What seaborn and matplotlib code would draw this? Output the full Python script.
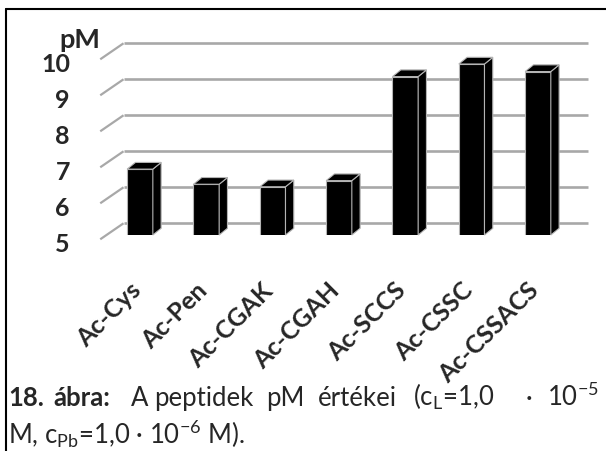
import numpy as np
import pandas as pd
import matplotlib
matplotlib.use("Agg")
import matplotlib.pyplot as plt
import seaborn as sns
from matplotlib.lines import Line2D
from matplotlib.patches import Polygon
from matplotlib.transforms import ScaledTranslation

# ---- data ----
peptides = ["Ac-Cys", "Ac-Pen", "Ac-CGAK", "Ac-CGAH", "Ac-SCCS", "Ac-CSSC", "Ac-CSSACS"]
pM_values = [6.83, 6.41, 6.34, 6.51, 9.40, 9.75, 9.54]
y_ticks = [5, 6, 7, 8, 9, 10]
y_label = "pM"

sns.set_style("white")
plt.rcParams['font.family'] = ['Lato', 'DejaVu Sans']
plt.rcParams['mathtext.fontset'] = 'custom'
plt.rcParams['mathtext.rm'] = 'Lato'
plt.rcParams['mathtext.default'] = 'regular'

W, H = 606, 451
DPI = 100
fig = plt.figure(figsize=(W / DPI, H / DPI), dpi=DPI)
fig.patch.set_facecolor("white")

# axes placement (pixels)
slot = 66.33
first_center = 140.0
base_px = 235.0
unit_px = 36.0
ymin, ymax = 5, 11
left_px = first_center - 0.5 * slot
ax = fig.add_axes([left_px / W, (H - base_px) / H, 7 * slot / W, (ymax - ymin) * unit_px / H])
ax.set_facecolor("none")

df = pd.DataFrame({"peptide": peptides, "pM": pM_values})
sns.barplot(data=df, x="peptide", y="pM", color="black", saturation=1, width=0.387,
            edgecolor="#b4b4b4", linewidth=0.8, ax=ax, zorder=3)
ax.set_xlim(-0.5, 6.5)
ax.set_ylim(ymin, ymax)

px_x = 1.0 / slot      # data units per pixel (x)
px_y = 1.0 / unit_px   # data units per pixel (y)

# ---- pseudo 3D faces of bars ----
ddx, ddy = 8.3 * px_x, 6.7 * px_y
for p in ax.patches:
    x0, w, top = p.get_x(), p.get_width(), p.get_y() + p.get_height()
    side = Polygon([(x0 + w, ymin), (x0 + w, top), (x0 + w + ddx, top + ddy), (x0 + w + ddx, ymin + ddy)],
                   closed=True, facecolor="black", edgecolor="#b4b4b4", lw=0.8, zorder=3, clip_on=False)
    topf = Polygon([(x0, top), (x0 + w, top), (x0 + w + ddx, top + ddy), (x0 + ddx, top + ddy)],
                   closed=True, facecolor="black", edgecolor="#b4b4b4", lw=0.8, zorder=3, clip_on=False)
    ax.add_patch(side)
    ax.add_patch(topf)

# ---- back wall gridlines and floor diagonals ----
grid_col = "#a8a8a8"
front_x = -0.5 - 6.6 * px_x
front_dy = -4.3 * px_y
back_x0 = -0.5 + 16.7 * px_x
back_x1 = 6.5 + 16.8 * px_x
back_dy = 11.7 * px_y
for v in y_ticks:
    ax.plot([back_x0, back_x1], [v + back_dy, v + back_dy], color=grid_col, lw=1.9,
            zorder=1, clip_on=False, solid_capstyle="butt")
    ax.plot([front_x, back_x0], [v + front_dy, v + back_dy], color=grid_col, lw=1.6,
            zorder=1, clip_on=False, solid_capstyle="butt")

sns.despine(ax=ax, left=True, bottom=True)
ax.set_xlabel("")
ax.set_ylabel("")

# y ticks
ax.set_yticks(y_ticks)
ax.set_yticklabels([str(v) for v in y_ticks], fontsize=18, fontweight="bold")
ax.tick_params(axis="y", length=0, pad=(left_px - 70) * 72 / DPI)
for lab in ax.get_yticklabels():
    lab.set_transform(lab.get_transform() + ScaledTranslation(0, -7.5 / DPI, fig.dpi_scale_trans))

# x ticks
ax.set_xticks(range(len(peptides)))
ax.set_xticklabels(peptides, rotation=45, ha="right", rotation_mode="anchor",
                   fontsize=18, fontweight="bold")
ax.tick_params(axis="x", length=0, pad=(287 - base_px) * 72 / DPI)
for lab in ax.get_xticklabels():
    lab.set_va("center")
    lab.set_transform(lab.get_transform() + ScaledTranslation(-3 / DPI, 0, fig.dpi_scale_trans))

# axis title "pM"
fig.text(59 / W, 1 - 48 / H, y_label, fontsize=19.5, fontweight="bold", ha="left", va="baseline")

# ---- border ----
fig.add_artist(Line2D([6 / W, 6 / W], [0, 1 - 9 / H], color="black", lw=1.5, transform=fig.transFigure))
fig.add_artist(Line2D([6 / W, 1], [1 - 9 / H, 1 - 9 / H], color="black", lw=1.5, transform=fig.transFigure))

# ---- caption (justified first line: words placed individually) ----
cap_fs = 18.5
line1 = [("18.", 8, "bold"), ("ábra:", 53, "bold"), ("A", 131, "normal"), ("peptidek", 154, "normal"),
         ("pM", 266, "normal"), ("értékei", 318, "normal"), ("(c$_{L}$=1,0", 413, "normal"),
         ("·", 526, "normal"), ("10$^{−5}$", 547, "normal")]
for txt, xp, wt in line1:
    fig.text(xp / W, 1 - 406 / H, txt, fontsize=cap_fs, fontweight=wt, ha="left", va="baseline")
fig.text(8 / W, 1 - 444 / H, "M, c$_{Pb}$=1,0 · 10$^{−6}$ M).", fontsize=cap_fs,
         ha="left", va="baseline")

fig.savefig("out.png", dpi=DPI, facecolor="white")
